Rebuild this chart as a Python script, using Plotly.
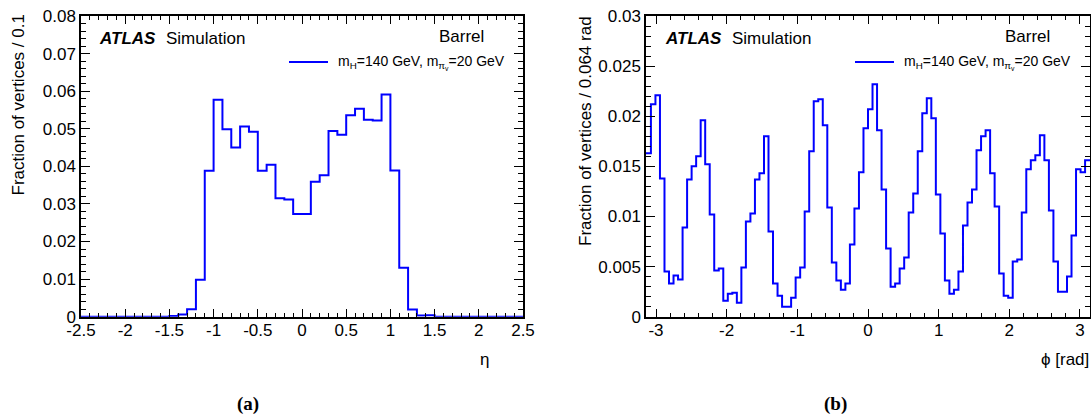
import numpy as np
import plotly.graph_objects as go

# ---------------- data ----------------
# (a) eta distribution, 50 bins of 0.1 from -2.5 to 2.5
eta_bin_low = -2.5
eta_bin_width = 0.1
eta_values = [
    0, 0, 0, 0, 0, 0, 0, 0, 0, 0,
    0.0002, 0.0006, 0.0020, 0.0098, 0.0388, 0.0577, 0.0499, 0.0450, 0.0506, 0.0492,
    0.0388, 0.0404, 0.0315, 0.0312, 0.0273, 0.0273, 0.0359, 0.0376, 0.0494, 0.0484,
    0.0536, 0.0553, 0.0524, 0.0522, 0.0591, 0.0389, 0.0130, 0.0019, 0.0003, 0.0004,
    0, 0, 0, 0, 0, 0, 0, 0, 0, 0,
]

# (b) phi distribution, 100 bins of 0.064 rad from -3.2 to 3.2
phi_bin_low = -3.2
phi_bin_width = 0.064
phi_values = [
    0.0163, 0.0163, 0.0212, 0.0221, 0.0138, 0.0045, 0.0033, 0.0041, 0.0037, 0.0089,
    0.0137, 0.0150, 0.0160, 0.0196, 0.0152, 0.0102, 0.0046, 0.0048, 0.0016, 0.0023,
    0.0024, 0.0014, 0.0049, 0.0095, 0.0103, 0.0137, 0.0143, 0.0180, 0.0085, 0.0033,
    0.0021, 0.0010, 0.0010, 0.0019, 0.0039, 0.0049, 0.0105, 0.0165, 0.0215, 0.0217,
    0.0191, 0.0109, 0.0054, 0.0036, 0.0027, 0.0033, 0.0072, 0.0108, 0.0144, 0.0188,
    0.0207, 0.0232, 0.0186, 0.0127, 0.0068, 0.0030, 0.0033, 0.0048, 0.0059, 0.0104,
    0.0123, 0.0165, 0.0203, 0.0218, 0.0198, 0.0122, 0.0083, 0.0036, 0.0023, 0.0027,
    0.0045, 0.0091, 0.0114, 0.0127, 0.0166, 0.0180, 0.0186, 0.0143, 0.0110, 0.0043,
    0.0021, 0.0019, 0.0055, 0.0057, 0.0104, 0.0147, 0.0156, 0.0161, 0.0181, 0.0156,
    0.0106, 0.0055, 0.0025, 0.0025, 0.0040, 0.0081, 0.0147, 0.0144, 0.0156, 0.0156,
]

eta_tickvals = [-2.5, -2, -1.5, -1, -0.5, 0, 0.5, 1, 1.5, 2, 2.5]
eta_ticktext = ["-2.5", "-2", "-1.5", "-1", "-0.5", "0", "0.5", "1", "1.5", "2", "2.5"]
eta_ytickvals = [0, 0.01, 0.02, 0.03, 0.04, 0.05, 0.06, 0.07, 0.08]
eta_yticktext = ["0", "0.01", "0.02", "0.03", "0.04", "0.05", "0.06", "0.07", "0.08"]
phi_tickvals = [-3, -2, -1, 0, 1, 2, 3]
phi_ticktext = ["-3", "-2", "-1", "0", "1", "2", "3"]
phi_ytickvals = [0, 0.005, 0.01, 0.015, 0.02, 0.025, 0.03]
phi_yticktext = ["0", "0.005", "0.01", "0.015", "0.02", "0.025", "0.03"]

legend_label = "m<sub>H</sub>=140 GeV, m<sub>π<sub>v</sub></sub>=20 GeV"

# ---------------- figure ----------------
W, H = 1091, 414
BLUE = "#0000ff"
FONT = "Liberation Sans, Arial, sans-serif"

def px(x):
    return x / W

def py(y):
    return 1 - y / H

def step_xy(low, width, values):
    n = len(values)
    edges = low + width * np.arange(n + 1)
    yv = list(values) + [values[-1]]
    return edges, yv

fig = go.Figure()

ex, ey = step_xy(eta_bin_low, eta_bin_width, eta_values)
fig.add_trace(go.Scatter(x=ex, y=ey, mode="lines", line=dict(color=BLUE, width=2, shape="hv"),
                         xaxis="x", yaxis="y", showlegend=False, hoverinfo="skip"))
phx, phy = step_xy(phi_bin_low, phi_bin_width, phi_values)
fig.add_trace(go.Scatter(x=phx, y=phy, mode="lines", line=dict(color=BLUE, width=2, shape="hv"),
                         xaxis="x2", yaxis="y2", showlegend=False, hoverinfo="skip"))

ydom = [py(316.7), py(16)]

def axis_common(major, minor_len, dtick_minor, tick0, standoff=0):
    return dict(
        showline=True, linecolor="black", linewidth=1.5, mirror="ticks",
        ticks="inside", ticklen=major, tickwidth=1, tickcolor="black",
        minor=dict(ticks="inside", ticklen=minor_len, tickwidth=1, tickcolor="black",
                   dtick=dtick_minor, tick0=tick0, showgrid=False),
        showgrid=False, zeroline=False, automargin=False,
        ticklabelstandoff=standoff,
        tickfont=dict(family=FONT, size=17, color="black"),
    )

fig.update_layout(
    width=W, height=H,
    margin=dict(l=0, r=0, t=0, b=0, autoexpand=False),
    paper_bgcolor="white", plot_bgcolor="white",
    showlegend=False,
    xaxis=dict(domain=[px(81), px(523)], range=[-2.5, 2.5], anchor="y",
               tickmode="array", tickvals=eta_tickvals, ticktext=eta_ticktext,
               **axis_common(8, 4, 0.1, -2.5, -3)),
    yaxis=dict(domain=ydom, range=[0, 0.08], anchor="x",
               tickmode="array", tickvals=eta_ytickvals, ticktext=eta_yticktext,
               **axis_common(9, 5, 0.002, 0)),
    xaxis2=dict(domain=[px(646), px(1090)], range=[-np.pi, np.pi], anchor="y2",
                tickmode="array", tickvals=phi_tickvals, ticktext=phi_ticktext,
                **axis_common(8, 4, 0.2, 0, -3)),
    yaxis2=dict(domain=ydom, range=[0, 0.03], anchor="x2",
                tickmode="array", tickvals=phi_ytickvals, ticktext=phi_yticktext,
                **axis_common(9, 5, 0.001, 0)),
)

ann = []

def text(x, y, s, size=17, xanchor="left", yanchor="middle", family=FONT, angle=0):
    ann.append(dict(x=px(x), y=py(y), xref="paper", yref="paper", text=s, showarrow=False,
                    xanchor=xanchor, yanchor=yanchor, textangle=angle,
                    font=dict(family=family, size=size, color="black")))

for off, xtitle, xt_x, xt_anchor, cap, cap_x in [
    (0, "η", 484, "center", "(a)", 248),
    (566, "ϕ [rad]", 1091, "right", "(b)", 835),
]:
    text(97 + off, 39, "<b><i>ATLAS</i></b>", size=17)
    text(164 + off, 39, "Simulation", size=17)
    text(486 + off, 37, "Barrel", size=17, xanchor="right")
    text(336 + off, 62, legend_label, size=14)
    fig.add_shape(type="line", xref="paper", yref="paper",
                  x0=px(289 + off), x1=px(328 + off), y0=py(62), y1=py(62),
                  line=dict(color=BLUE, width=2))
    text(xt_x, 359, xtitle, size=17, xanchor=xt_anchor)
    text(cap_x, 404, "<b>" + cap + "</b>", size=19, xanchor="center",
         family="Liberation Serif, Times New Roman, serif")

text(18, 13, "Fraction of vertices / 0.1", size=17, xanchor="center", yanchor="top", angle=-90)
text(585, 14, "Fraction of vertices / 0.064 rad", size=17, xanchor="center", yanchor="top", angle=-90)

fig.update_layout(annotations=ann)
fig.write_html(
    "out.html",
    config={"displayModeBar": False},
    post_script="document.body.style.margin='0px';document.body.style.overflow='hidden';",
)
